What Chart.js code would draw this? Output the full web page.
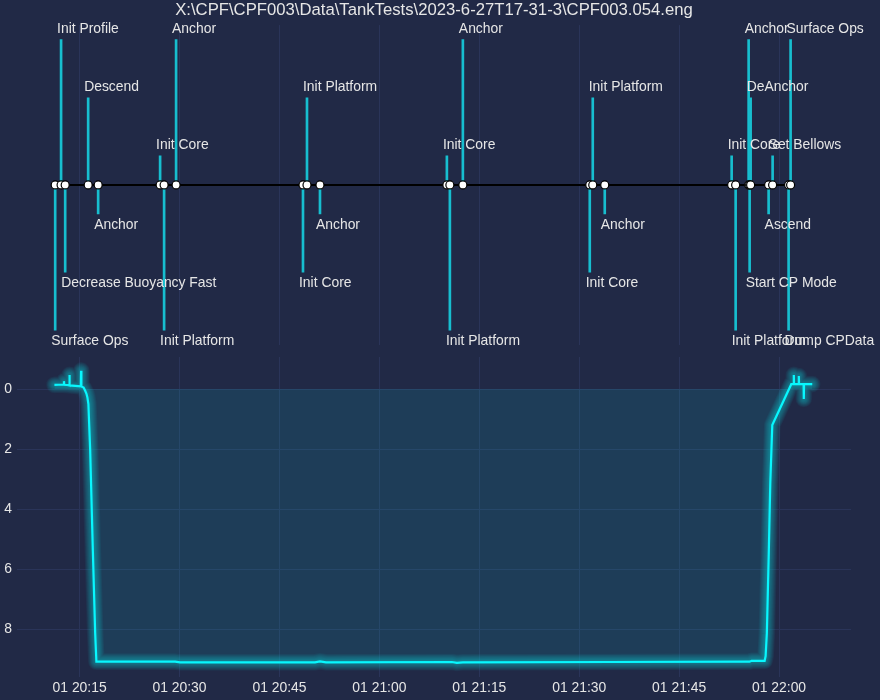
<!DOCTYPE html>
<html>
<head>
<meta charset="utf-8">
<title>CPF003.054.eng</title>
<script src="https://cdn.jsdelivr.net/npm/chart.js@4.4.1/dist/chart.umd.min.js"></script>
<style>
  html, body { margin: 0; padding: 0; background: #212946; }
  .panel { width: 880px; height: 350px; }
  canvas { display: block; }
</style>
</head>
<body>
<div class="panel"><canvas id="timelineChart" width="880" height="350"></canvas></div>
<div class="panel"><canvas id="depthChart" width="880" height="350"></canvas></div>
<script>
// File the run was read from (shown as the title) and the day of the run
const fileName = "X:\\CPF\\CPF003\\Data\\TankTests\\2023-6-27T17-31-3\\CPF003.054.eng";
const dayLabel = "01";

// Mission events: name, time and stem level on the timeline
const eventNames = [
    "Surface Ops", "Init Profile", "Decrease Buoyancy Fast", "Descend", "Anchor", "Init Core",
    "Init Platform", "Anchor", "Init Core", "Init Platform", "Anchor", "Init Core",
    "Init Platform", "Anchor", "Init Core", "Init Platform", "Anchor", "Init Core",
    "Init Platform", "Anchor", "Start CP Mode", "DeAnchor", "Ascend", "Set Bellows",
    "Dump CPData", "Surface Ops"
];
const eventTimes = [
    "20:11:20", "20:12:13", "20:12:50", "20:16:17", "20:17:47", "20:27:05",
    "20:27:41", "20:29:29", "20:48:32", "20:49:08", "20:51:05", "21:10:08",
    "21:10:35", "21:12:32", "21:31:35", "21:32:02", "21:33:50", "21:52:53",
    "21:53:29", "21:55:26", "21:55:35", "21:55:44", "21:58:26", "21:59:02",
    "22:01:26", "22:01:44"
];
const eventLevels = [
    -5, 5, -3, 3, -1, 1,
    -5, 5, -3, 3, -1, 1,
    -5, 5, -3, 3, -1, 1,
    -5, 5, -3, 3, -1, 1,
    -5, 5
];

// Depth record, metres (positive down)
const depthTimes = [
    "20:11:13", "20:12:33", "20:12:39", "20:12:42", "20:13:25", "20:13:28", "20:13:31",
    "20:15:11", "20:15:13", "20:15:16", "20:15:36", "20:15:50", "20:16:01", "20:16:10",
    "20:16:19", "20:16:35", "20:16:59", "20:17:20", "20:17:31", "20:29:20", "20:30:05",
    "20:50:20", "20:51:05", "20:51:59", "21:10:53", "21:11:38", "21:12:32", "21:34:35",
    "21:55:35", "21:55:53", "21:57:50", "21:57:59", "21:58:10", "21:58:28", "21:58:41",
    "21:58:59", "22:01:50", "22:02:11", "22:02:13", "22:02:15", "22:02:56", "22:02:58",
    "22:03:00", "22:03:41", "22:03:43", "22:03:45", "22:04:59"
];
const depthValues = [
    -0.14, -0.15, -0.26, -0.14, -0.13, -0.47, -0.12,
    -0.09, -0.61, -0.08, -0.05, 0.06, 0.15, 0.28,
    0.5, 2.03, 5.37, 8.13, 9.09, 9.09, 9.11,
    9.11, 9.08, 9.11, 9.1, 9.13, 9.11, 9.1,
    9.09, 9.06, 9.06, 8.9, 8.14, 5.37, 3.14,
    1.2, -0.16, -0.16, -0.47, -0.16, -0.16, -0.43,
    -0.16, -0.16, 0.33, -0.16, -0.16
];

// Axis ticks
const tickTimes = ["20:15", "20:30", "20:45", "21:00", "21:15", "21:30", "21:45", "22:00"];
const depthTicks = [0, 2, 4, 6, 8];

// Colours
const gridColor = "#2A3459";
const textColor = "#e6e6e6";
const lineColor = "#08F7FE";
const stemColor = "#17becf";

Chart.defaults.font.family = "'Liberation Sans', Arial, sans-serif";
Chart.defaults.font.size = 13.9;
Chart.defaults.color = textColor;

// Turn "HH:MM[:SS]" into minutes after midnight
function toMinutes(t) {
    const p = t.split(":").map(Number);
    return p[0] * 60 + p[1] + (p[2] || 0) / 60;
}

// Tick text like "01 20:15"
function formatTick(m) {
    const h = Math.floor(m / 60);
    const mm = Math.round(m - h * 60);
    return dayLabel + " " + String(h).padStart(2, "0") + ":" + String(mm).padStart(2, "0");
}

// Drop the extra room Chart.js keeps for half a tick label
function noLabelPadding(scale) {
    scale.paddingTop = 0;
    scale.paddingBottom = 0;
    scale.paddingLeft = 0;
    scale.paddingRight = 0;
}

const xMin = toMinutes("20:05:36");
const xMax = toMinutes("22:10:48");

// Shared time axis for both panels
function timeAxis(showLabels) {
    return {
        type: "linear",
        min: xMin,
        max: xMax,
        offset: false,
        afterBuildTicks: scale => { scale.ticks = tickTimes.map(t => ({ value: toMinutes(t) })); },
        afterFit: scale => {
            scale.height = showLabels ? 23 : 5;
            noLabelPadding(scale);
        },
        grid: { color: gridColor, drawTicks: false, offset: false },
        border: { display: false },
        ticks: {
            display: showLabels,
            color: textColor,
            padding: 3,
            autoSkip: false,
            maxRotation: 0,
            callback: v => formatTick(v)
        }
    };
}

// Writes each event name at the end of its stem
const eventLabels = {
    id: "eventLabels",
    afterDatasetsDraw(chart) {
        const { ctx, scales: { x, y } } = chart;
        ctx.save();
        ctx.fillStyle = textColor;
        ctx.font = "13.9px 'Liberation Sans', Arial, sans-serif";
        ctx.textAlign = "left";
        ctx.textBaseline = "alphabetic";
        eventNames.forEach((name, i) => {
            const px = x.getPixelForValue(toMinutes(eventTimes[i]));
            const py = y.getPixelForValue(eventLevels[i]);
            ctx.fillText(name, px - 4, eventLevels[i] > 0 ? py - 7 : py + 15);
        });
        ctx.restore();
    }
};

// Neon glow: wider, faint copies of the depth line drawn under it
const glow = {
    id: "glow",
    beforeDatasetDraw(chart, args) {
        const ctx = chart.ctx;
        const line = args.meta.dataset;
        ctx.save();
        ctx.beginPath();
        ctx.rect(chart.chartArea.left, chart.chartArea.top - 20, chart.chartArea.width, chart.chartArea.height + 20);
        ctx.clip();
        ctx.strokeStyle = "rgba(8, 247, 254, 0.045)";
        ctx.lineJoin = "round";
        ctx.lineCap = "round";
        for (let n = 1; n <= 10; n++) {
            ctx.lineWidth = 2.2 + 1.45 * n;
            ctx.beginPath();
            line.path(ctx);
            ctx.stroke();
        }
        ctx.restore();
    }
};

// Event timeline
const timelineChart = new Chart(document.getElementById("timelineChart"), {
    type: "line",
    data: {
        datasets: [
            {
                type: "line",
                order: 0,
                data: eventTimes.map(t => ({ x: toMinutes(t), y: 0 })),
                borderColor: "#000000",
                borderWidth: 2,
                pointRadius: 4,
                pointBackgroundColor: "#ffffff",
                pointBorderColor: "#000000",
                pointBorderWidth: 1.2
            },
            {
                type: "bar",
                order: 1,
                data: eventTimes.map((t, i) => ({ x: toMinutes(t), y: [0, eventLevels[i]] })),
                backgroundColor: stemColor,
                barThickness: 2
            }
        ]
    },
    options: {
        responsive: false,
        animation: false,
        events: [],
        layout: { padding: { left: 17, right: 29, top: 0, bottom: 0 } },
        plugins: {
            legend: { display: false },
            tooltip: { enabled: false },
            title: {
                display: true,
                text: fileName,
                color: textColor,
                font: { size: 16.7, weight: "normal" },
                padding: { top: 0, bottom: 5 }
            }
        },
        scales: {
            x: timeAxis(false),
            y: { display: false, min: -5.5, max: 5.5 }
        }
    },
    plugins: [eventLabels]
});

// Depth over time
const depthChart = new Chart(document.getElementById("depthChart"), {
    type: "line",
    data: {
        datasets: [{
            data: depthTimes.map((t, i) => ({ x: toMinutes(t), y: depthValues[i] })),
            borderColor: lineColor,
            borderWidth: 2.2,
            pointRadius: 0,
            tension: 0,
            fill: "origin",
            backgroundColor: "rgba(8, 247, 254, 0.1)"
        }]
    },
    options: {
        responsive: false,
        animation: false,
        events: [],
        layout: { padding: { left: 0, right: 29, top: 7, bottom: 0 } },
        plugins: {
            legend: { display: false },
            tooltip: { enabled: false }
        },
        scales: {
            x: timeAxis(true),
            y: {
                reverse: true,
                min: -1.067,
                max: 9.6,
                afterBuildTicks: scale => { scale.ticks = depthTicks.map(v => ({ value: v })); },
                afterFit: scale => {
                    scale.width = 17;
                    noLabelPadding(scale);
                },
                grid: { color: gridColor, drawTicks: false },
                border: { display: false },
                ticks: { color: textColor, padding: 5 }
            }
        }
    },
    plugins: [glow]
});
</script>
</body>
</html>
